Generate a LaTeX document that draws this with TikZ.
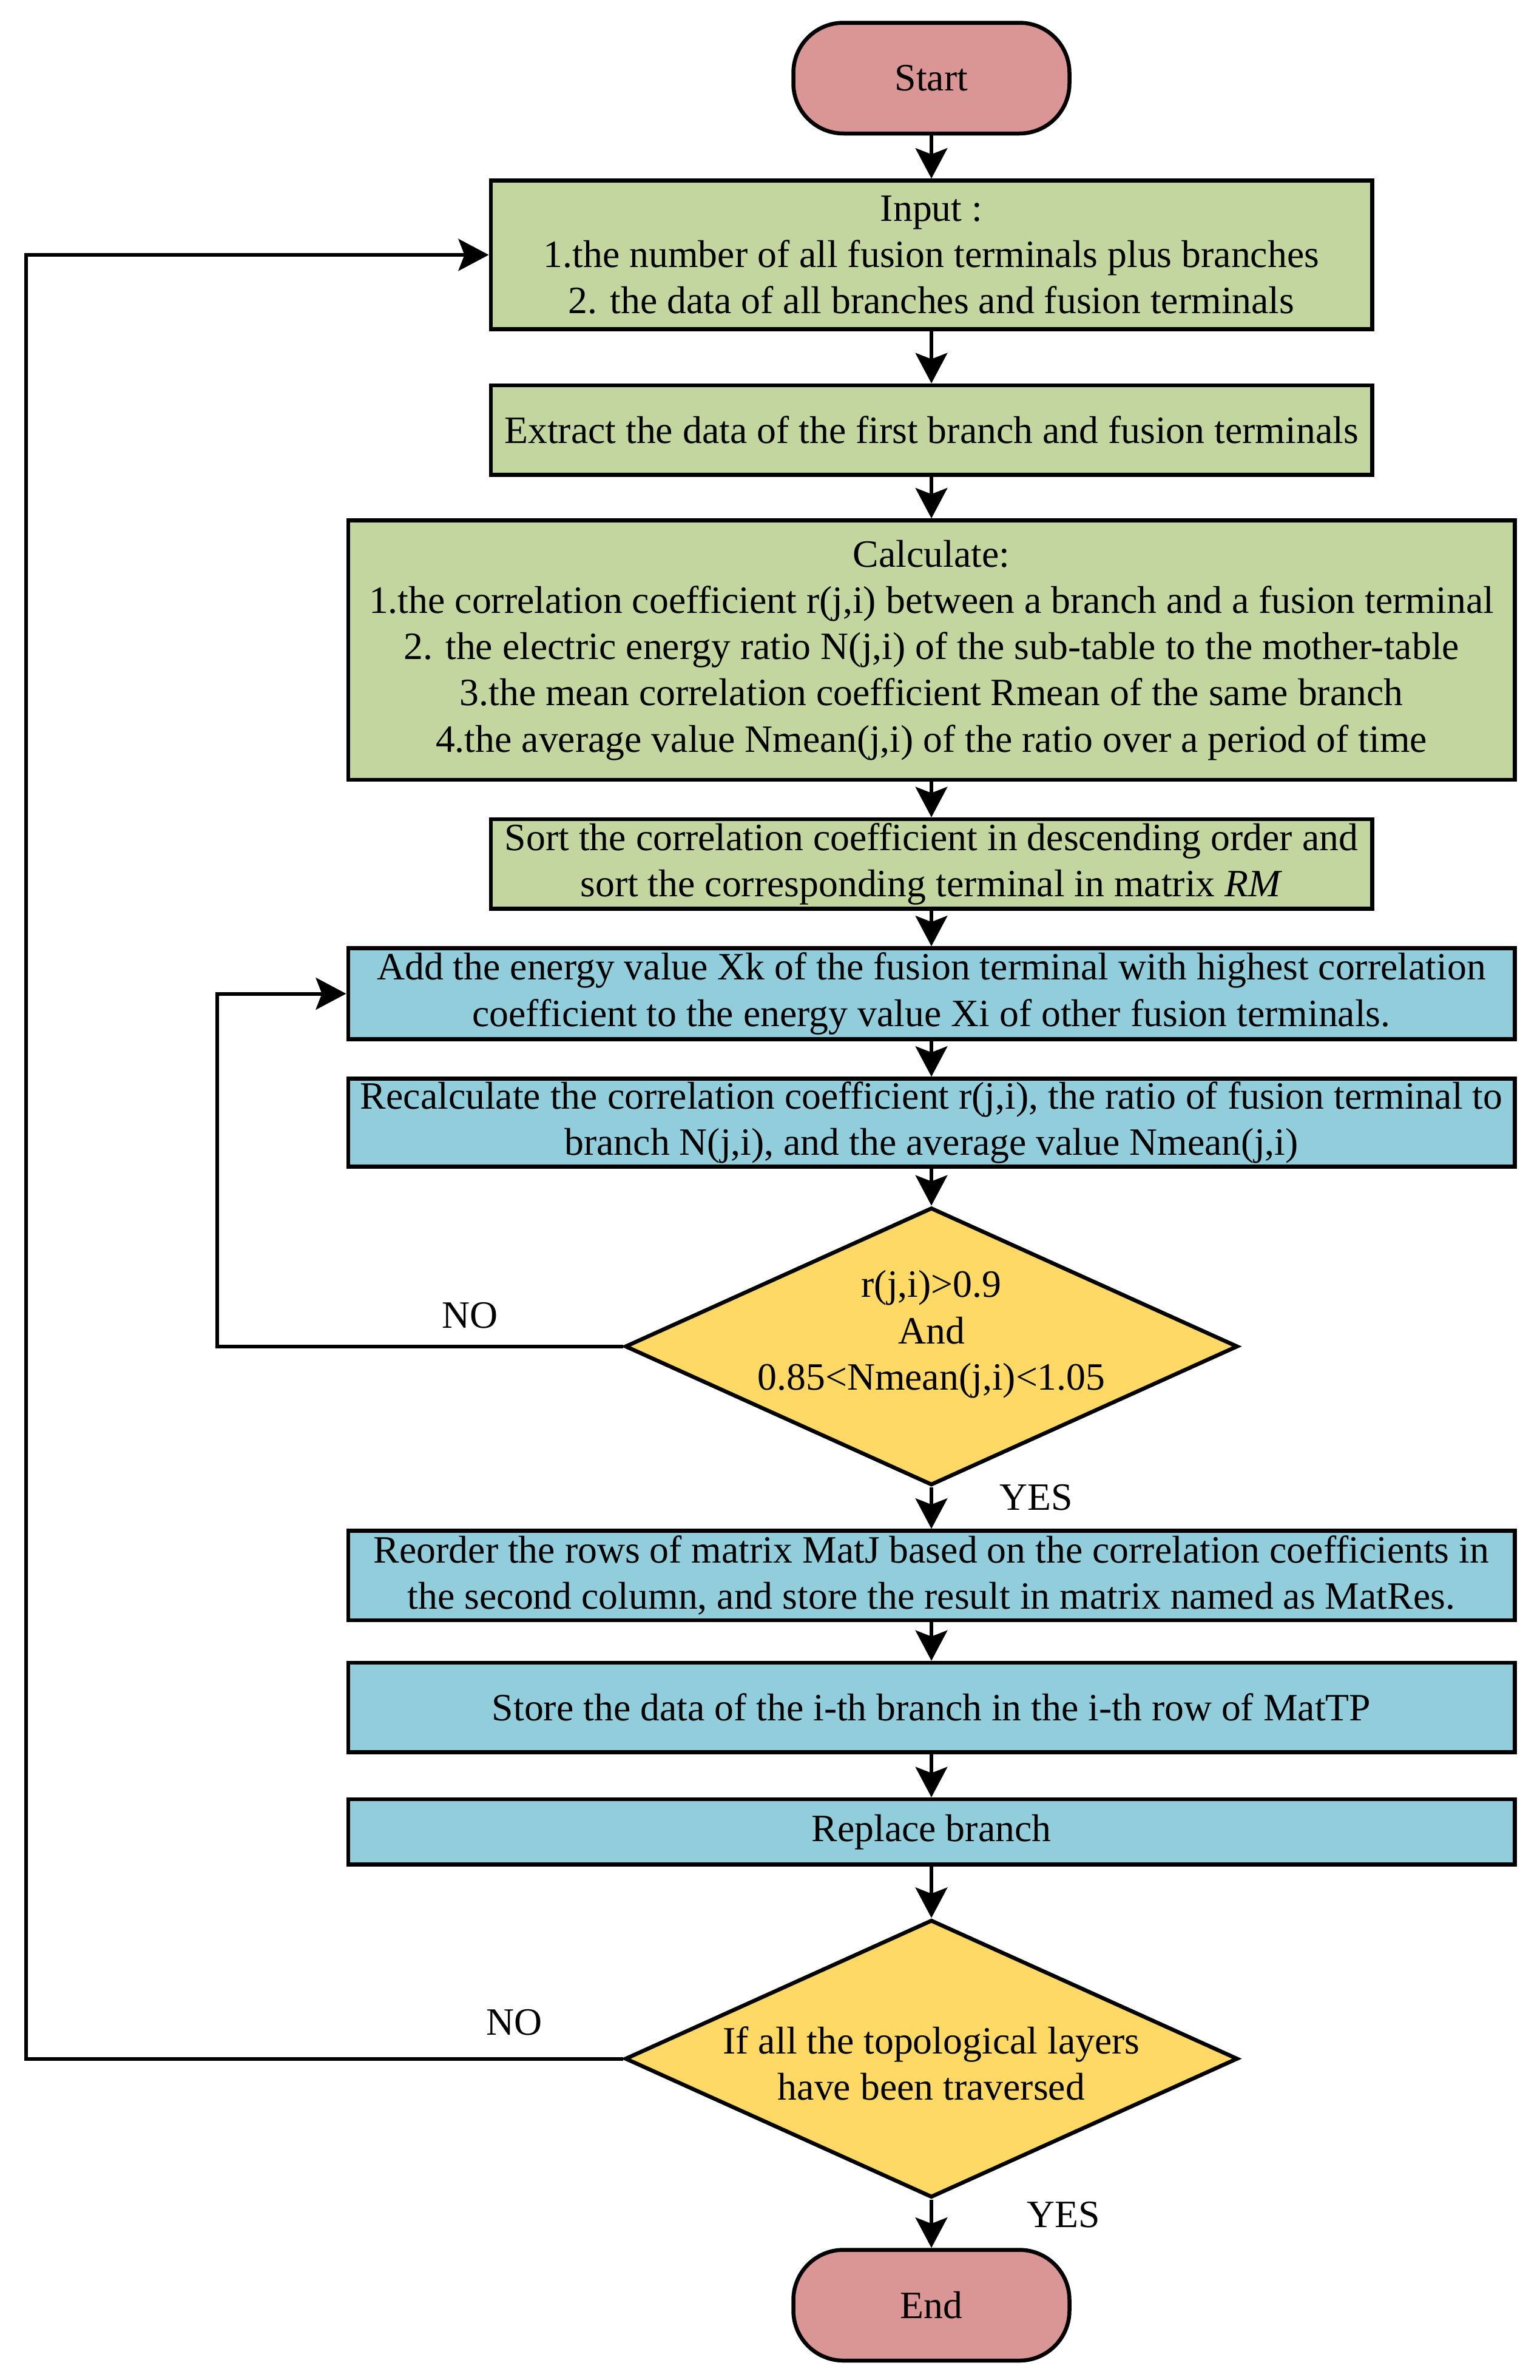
\documentclass[tikz,border=0pt]{standalone}
\usepackage{fontspec}
\setmainfont{Liberation Serif}
\usetikzlibrary{shapes.geometric,arrows.meta}
\definecolor{termred}{HTML}{D99694}
\definecolor{boxgreen}{HTML}{C4D6A0}
\definecolor{boxblue}{HTML}{92CDDC}
\definecolor{decyellow}{HTML}{FED966}
\begin{document}
\begin{tikzpicture}[x=1pt,y=-1pt,
  every node/.style={font=\fontsize{25.5}{30.5}\selectfont, align=center},
  term/.style={rectangle, rounded corners=33pt, draw, line width=2.6pt, fill=termred, minimum width=182pt, minimum height=73pt},
  greenbox/.style={rectangle, draw, line width=2.6pt, fill=boxgreen, inner sep=2pt},
  bluebox/.style={rectangle, draw, line width=2.6pt, fill=boxblue, inner sep=2pt, minimum width=769pt},
  decide/.style={diamond, draw, line width=2.6pt, fill=decyellow, inner sep=0pt, minimum width=404pt, minimum height=183pt},
  flow/.style={line width=2.4pt, -{Stealth[length=20pt,width=21pt,inset=4pt]}}]
\useasboundingbox (0,0) rectangle (1014.8,1568.8);
\node[term] (blk0) at (614,51.5){Start};
\node[greenbox, minimum width=581pt, minimum height=98pt] (blk1) at (614,168){Input :\\1.the number of all fusion terminals plus branches\\2. the data of all branches and fusion terminals};
\node[greenbox, minimum width=581pt, minimum height=59pt] (blk2) at (614,283.5){Extract the data of the first branch and fusion terminals};
\node[greenbox, minimum width=769pt, minimum height=171pt] (blk3) at (614,428.5){Calculate:\\1.the correlation coefficient r(j,i) between a branch and a fusion terminal\\2. the electric energy ratio N(j,i) of the sub-table to the mother-table\\3.the mean correlation coefficient Rmean of the same branch\\4.the average value Nmean(j,i) of the ratio over a period of time};
\node[greenbox, minimum width=581pt, minimum height=59pt] (blk4) at (614,569.5){Sort the correlation coefficient in descending order and\\sort the corresponding terminal in matrix \textit{RM}};
\node[bluebox, minimum height=60pt] (blk5) at (614,655){Add the energy value Xk of the fusion terminal with highest correlation\\coefficient to the energy value Xi of other fusion terminals.};
\node[bluebox, minimum height=58pt] (blk6) at (614,740){Recalculate the correlation coefficient r(j,i), the ratio of fusion terminal to\\branch N(j,i), and the average value Nmean(j,i)};
\node[decide, label={[yshift=8pt]center:{r(j,i)>0.9\\And\\0.85<Nmean(j,i)<1.05}}] (blk7) at (614,887.5){};
\node[bluebox, minimum height=59pt] (blk8) at (614,1038.5){Reorder the rows of matrix MatJ based on the correlation coefficients in\\the second column, and store the result in matrix named as MatRes.};
\node[bluebox, minimum height=59pt] (blk9) at (614,1125.5){Store the data of the i-th branch in the i-th row of MatTP};
\node[bluebox, minimum height=43pt] (blk10) at (614,1207.5){Replace branch};
\node[decide, label={[yshift=-3pt]center:{If all the topological layers\\have been traversed}}] (blk11) at (614,1357){};
\node[term] (blk12) at (614,1519.5){End};
\node (lbl0) at (310,867){NO};
\node (lbl1) at (683,987){YES};
\node (lbl2) at (339,1333){NO};
\node (lbl3) at (701,1460){YES};
\coordinate (c0) at (143,887.5);
\coordinate (c1) at (17,1357);
\draw[flow] (blk0) -- (blk1);
\draw[flow] (blk1) -- (blk2);
\draw[flow] (blk2) -- (blk3);
\draw[flow] (blk3) -- (blk4);
\draw[flow] (blk4) -- (blk5);
\draw[flow] (blk5) -- (blk6);
\draw[flow] (blk6) -- (blk7);
\draw[flow] (blk7) -- (blk8);
\draw[flow] (blk8) -- (blk9);
\draw[flow] (blk9) -- (blk10);
\draw[flow] (blk10) -- (blk11);
\draw[flow] (blk11) -- (blk12);
\draw[flow] (blk7.west) -- (c0) |- (blk5.west);
\draw[flow] (blk11.west) -- (c1) |- (blk1.west);
\end{tikzpicture}
\end{document}
